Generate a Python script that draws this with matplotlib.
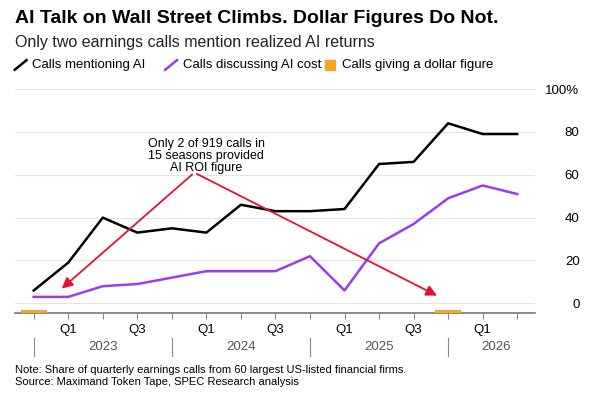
import matplotlib.pyplot as plt
import numpy as np

# --- Data ---
quarters = ["Q4 2022", "Q1 2023", "Q2 2023", "Q3 2023", "Q4 2023", "Q1 2024", "Q2 2024", "Q3 2024",
            "Q4 2024", "Q1 2025", "Q2 2025", "Q3 2025", "Q4 2025", "Q1 2026", "Q2 2026"]
mention_ai = [6, 19, 40, 33, 35, 33, 46, 43, 43, 44, 65, 66, 84, 79, 79]
ai_cost = [3, 3, 8, 9, 12, 15, 15, 15, 22, 6, 28, 37, 49, 55, 51]
dollar_figure = [1, 0, 0, 0, 0, 0, 0, 0, 0, 0, 0, 0, 1, 0, 0]
years = ["2023", "2024", "2025", "2026"]

plt.rcParams['font.family'] = ['Liberation Sans', 'DejaVu Sans']
fig = plt.figure(figsize=(5.9, 4.01), dpi=100)
ax = fig.add_axes([0.025, 0.219, 0.882, 0.559])
x = np.arange(len(quarters))

ax.set_ylim(-4.6, 100)
ax.set_xlim(-0.55, 14.52)
for v in [0, 20, 40, 60, 80, 100]:
    ax.axhline(v, color="#e3e3e3", lw=0.8, zorder=0)

# dollar figure marks sit on the baseline
ymin = ax.get_ylim()[0]
for xi, d in zip(x, dollar_figure):
    if d:
        ax.bar(xi, 1.6, bottom=ymin, width=0.75, color="#f5a623", zorder=3)

ax.plot(x, mention_ai, color="black", lw=1.8, zorder=4)
ax.plot(x, ai_cost, color="#9b3cf0", lw=1.8, zorder=4)

# annotation
ax.text(5.0, 77, "Only 2 of 919 calls in\n15 seasons provided\nAI ROI figure", ha="center", va="top",
        fontsize=9, linespacing=1.0)
red = "#e8112d"
for tx, ty in [(0.75, 6), (11.75, 3)]:
    ax.annotate("", xy=(tx, ty), xytext=(4.65, 61),
                arrowprops=dict(arrowstyle="-|>", color=red, lw=1.3, mutation_scale=16), zorder=5)

ax.yaxis.tick_right()
ax.set_yticks([0, 20, 40, 60, 80, 100])
ax.set_yticklabels(["0", "20", "40", "60", "80", "100%"])
ax.tick_params(axis="y", length=0, labelsize=9.5, pad=32)
for lbl in ax.get_yticklabels():
    lbl.set_horizontalalignment("right")

ax.set_xticks(x)
ax.set_xticklabels([q.split()[0] if q.split()[0] in ("Q1", "Q3") else "" for q in quarters])
ax.tick_params(axis="x", length=4, color="#888888", labelsize=9.5, pad=4)
for s in ["top", "right", "left"]:
    ax.spines[s].set_visible(False)
ax.spines["bottom"].set_color("#777777")
ax.spines["bottom"].set_linewidth(1.2)

# year labels with separators
for i, yr in enumerate(years):
    c = 2 + 4 * i
    ax.text(c if i < 3 else 13.4, -0.15, yr, transform=ax.get_xaxis_transform(), ha="center", va="center",
            fontsize=9.5, color="#555555")
for sep in [0, 4, 8, 12]:
    ax.plot([sep, sep], [-0.19, -0.11], transform=ax.get_xaxis_transform(), color="#888888", lw=0.8,
            clip_on=False)

fig.text(0.025, 0.955, "AI Talk on Wall Street Climbs. Dollar Figures Do Not.", fontsize=14,
         fontweight="bold", va="center")
fig.text(0.025, 0.895, "Only two earnings calls mention realized AI returns", fontsize=11.5, va="center",
         color="#222222")

# legend
lx, ly = 0.025, 0.838
items = [("Calls mentioning AI", "black"), ("Calls discussing AI cost", "#9b3cf0"),
         ("Calls giving a dollar figure", "#f5a623")]
offs = [0.0, 0.255, 0.525]
for (lab, col), o in zip(items, offs):
    if col == "#f5a623":
        fig.patches.append(plt.Rectangle((lx + o, ly - 0.012), 0.018, 0.024, color=col,
                                         transform=fig.transFigure))
    else:
        fig.add_artist(plt.Line2D([lx + o, lx + o + 0.02], [ly - 0.012, ly + 0.012], color=col, lw=1.8))
    fig.text(lx + o + 0.03, ly, lab, fontsize=9.5, va="center")

fig.text(0.025, 0.063, "Note: Share of quarterly earnings calls from 60 largest US-listed financial firms.\n"
         "Source: Maximand Token Tape, SPEC Research analysis", fontsize=8, va="center", linespacing=1.3)

fig.savefig("out.png", dpi=100)
